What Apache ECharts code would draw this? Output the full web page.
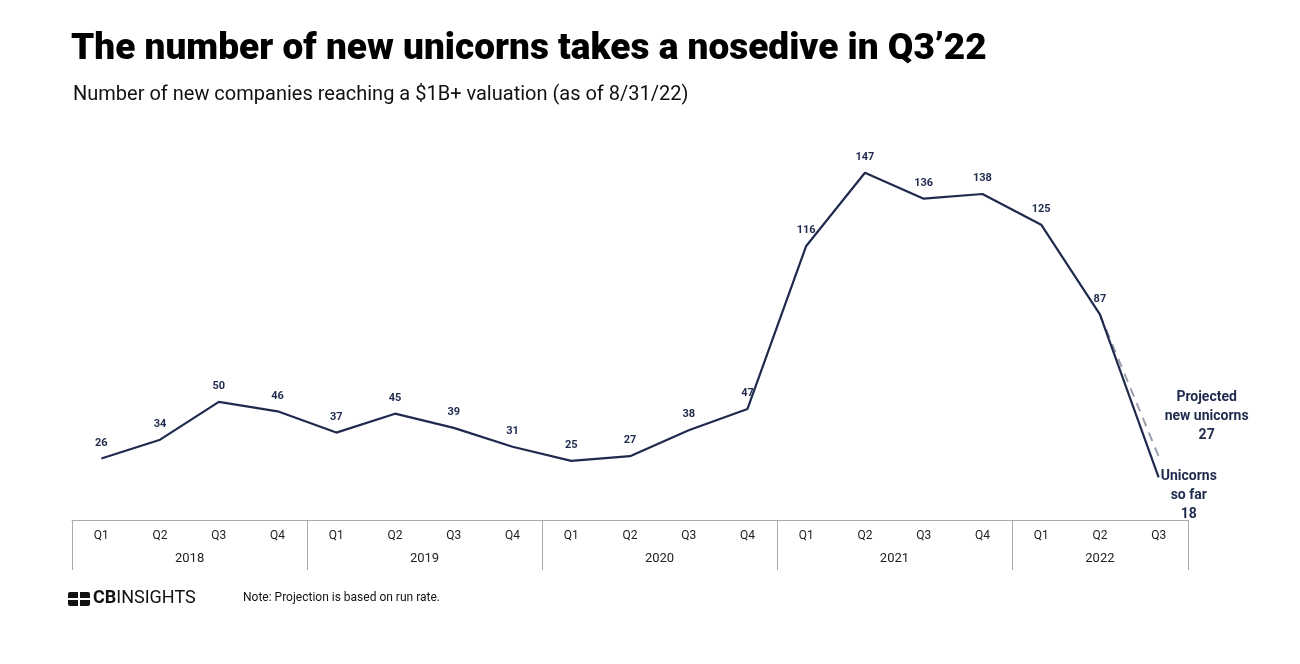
<!DOCTYPE html>
<html>
<head>
<meta charset="utf-8">
<script src="https://cdn.jsdelivr.net/npm/echarts@6/dist/echarts.min.js"></script>
<style>
  html, body { margin: 0; padding: 0; background: #fff; }
  #chart { width: 1300px; height: 664px; }
</style>
</head>
<body>
<div id="chart"></div>
<script>
const quarters = ['Q1', 'Q2', 'Q3', 'Q4', 'Q1', 'Q2', 'Q3', 'Q4', 'Q1', 'Q2', 'Q3', 'Q4', 'Q1', 'Q2', 'Q3', 'Q4', 'Q1', 'Q2', 'Q3']
const years = ['', '2018', '', '', '', '2019', '', '', '', '2020', '', '', '', '2021', '', '', '', '2022', '']
const unicorns = [26, 34, 50, 46, 37, 45, 39, 31, 25, 27, 38, 47, 116, 147, 136, 138, 125, 87, 18]
const projected = [null, null, null, null, null, null, null, null, null, null, null, null, null, null, null, null, null, 87, 27]

const navy = '#1f2a4d'
const myChart = echarts.init(document.getElementById('chart'))

const option = {
  textStyle: { fontFamily: 'Roboto' },
  title: [
    {
      text: 'The number of new unicorns takes a nosedive in Q3’22',
      left: 66, top: 26,
      textStyle: { fontSize: 37, fontWeight: 900, color: '#000', fontFamily: 'Roboto' },
    },
    {
      text: 'Number of new companies reaching a $1B+ valuation (as of 8/31/22)',
      left: 68, top: 80,
      textStyle: { fontSize: 20, fontWeight: 'normal', color: '#111', fontFamily: 'Roboto' },
    },
  ],
  grid: { left: 72, right: 112, top: 142, bottom: 144 },
  xAxis: [
    {
      type: 'category',
      data: quarters,
      boundaryGap: true,
      axisLine: { show: true, lineStyle: { color: '#aaa', width: 1 } },
      axisTick: {
        show: true,
        length: 50,
        interval: function (i) { return i % 4 === 0 },
        lineStyle: { color: '#aaa' },
      },
      axisLabel: { color: '#222', fontSize: 12, margin: 10, interval: 0 },
    },
    {
      type: 'category',
      data: years,
      position: 'bottom',
      offset: 24,
      axisLine: { show: false },
      axisTick: { show: false },
      axisLabel: {
        interval: 0,
        fontSize: 13,
        color: '#222',
        formatter: function (v, i) {
          if (!v) return ''
          return i === 17 ? v : '{s|' + v + '}'
        },
        rich: { s: { padding: [0, 0, 0, 59], fontSize: 13, color: '#222' } },
      },
    },
  ],
  yAxis: {
    type: 'value',
    min: 0,
    max: 160,
    show: false,
  },
  series: [
    {
      name: 'Projected',
      type: 'line',
      data: projected,
      symbol: 'circle',
      symbolSize: 0.1,
      showSymbol: true,
      lineStyle: { color: '#9aa0ad', width: 2, type: [9, 7] },
      z: 1,
      label: {
        show: true,
        position: 'right',
        distance: 6,
        formatter: function (p) { return p.dataIndex === 18 ? '{b|Projected\nnew unicorns\n27}' : '' },
        rich: { b: { color: navy, fontWeight: 'bold', fontSize: 14, lineHeight: 19, align: 'center' } },
        offset: [0, -40],
      },
    },
    {
      name: 'Unicorns',
      type: 'line',
      data: unicorns,
      symbol: 'circle',
      symbolSize: 0.1,
      showSymbol: true,
      lineStyle: { color: navy, width: 2.2 },
      itemStyle: { color: navy },
      z: 2,
      label: {
        show: true,
        position: 'top',
        distance: 10,
        color: navy,
        fontWeight: 'bold',
        fontSize: 11,
        formatter: function (p) { return p.dataIndex === 18 ? '' : p.value },
      },
    },
    {
      name: 'so far',
      type: 'line',
      data: unicorns.map(function (v, i) { return i === 18 ? v : null }),
      symbol: 'circle',
      symbolSize: 0.1,
      showSymbol: true,
      lineStyle: { opacity: 0 },
      label: {
        show: true,
        position: 'right',
        distance: 2,
        offset: [0, 18],
        formatter: '{b|Unicorns\nso far\n18}',
        rich: { b: { color: navy, fontWeight: 'bold', fontSize: 14, lineHeight: 19, align: 'center' } },
      },
    },
  ],
  graphic: [
    { type: 'rect', left: 68, top: 592, shape: { width: 22, height: 14, r: 2 }, style: { fill: '#111' } },
    { type: 'rect', left: 78, top: 592, shape: { width: 2, height: 14 }, style: { fill: '#fff' } },
    { type: 'rect', left: 68, top: 598, shape: { width: 22, height: 2 }, style: { fill: '#fff' } },
    {
      type: 'text', left: 93, top: 589,
      style: { text: '{a|CB}{c|INSIGHTS}', rich: { a: { fontSize: 18, fontWeight: 'bold', fill: '#111', fontFamily: 'Roboto' }, c: { fontSize: 18, fill: '#111', fontFamily: 'Roboto' } } },
    },
    {
      type: 'text', left: 243, top: 592,
      style: { text: 'Note: Projection is based on run rate.', fontSize: 12, fill: '#111', fontFamily: 'Roboto' },
    },
  ],
}

option && myChart.setOption(option)
window.addEventListener('resize', function () {
  myChart.resize()
})
</script>
</body>
</html>
